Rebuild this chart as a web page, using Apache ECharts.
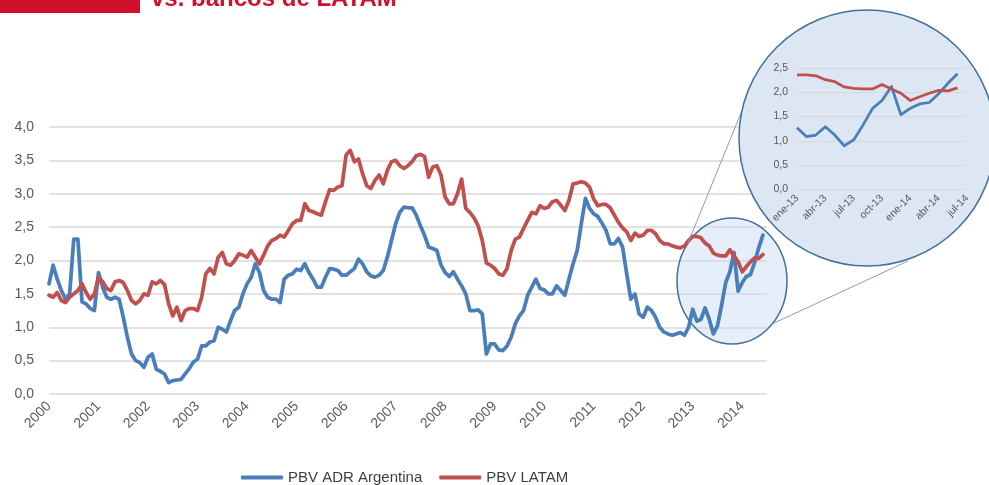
<!DOCTYPE html>
<html>
<head>
<meta charset="utf-8">
<script src="https://cdn.jsdelivr.net/npm/echarts@6/dist/echarts.min.js"></script>
<style>
  html, body { margin: 0; padding: 0; background: #fff; }
  #chart { width: 989px; height: 485px; }
</style>
</head>
<body>
<div id="chart"></div>
<script>
// monthly series, ene-2000 .. jun-2014
const years = ['2000', '2001', '2002', '2003', '2004', '2005', '2006', '2007',
  '2008', '2009', '2010', '2011', '2012', '2013', '2014']
const monthNames = ['ene', 'feb', 'mar', 'abr', 'may', 'jun', 'jul', 'ago', 'sep', 'oct', 'nov', 'dic']

const adrArgentina = [
  1.65, 1.93, 1.72, 1.55, 1.42, 1.5, 2.32, 2.32, 1.38, 1.35, 1.28, 1.25,
  1.82, 1.6, 1.45, 1.42, 1.45, 1.42, 1.15, 0.85, 0.6, 0.5, 0.47, 0.4,
  0.55, 0.6, 0.37, 0.34, 0.3, 0.17, 0.2, 0.21, 0.22, 0.3, 0.38, 0.48,
  0.52, 0.72, 0.72, 0.78, 0.8, 1.0, 0.97, 0.93, 1.1, 1.25, 1.3, 1.5,
  1.65, 1.75, 1.95, 1.82, 1.55, 1.45, 1.42, 1.42, 1.37, 1.72, 1.78, 1.8,
  1.87, 1.85, 1.95, 1.82, 1.72, 1.6, 1.6, 1.75, 1.88, 1.87, 1.85, 1.78,
  1.78, 1.83, 1.88, 2.02, 1.95, 1.83, 1.77, 1.75, 1.78, 1.85, 2.05, 2.3,
  2.55, 2.72, 2.8, 2.79, 2.79, 2.68, 2.52, 2.38, 2.2, 2.18, 2.15, 1.93,
  1.82, 1.76, 1.83, 1.72, 1.62, 1.5, 1.25, 1.25, 1.26, 1.2, 0.6, 0.75,
  0.75, 0.66, 0.65, 0.72, 0.85, 1.05, 1.17, 1.25, 1.48, 1.6, 1.72, 1.58,
  1.56, 1.5, 1.5, 1.62, 1.55, 1.48, 1.72, 1.95, 2.15, 2.55, 2.93, 2.78,
  2.7, 2.66, 2.56, 2.45, 2.25, 2.25, 2.33, 2.2, 1.8, 1.42, 1.5, 1.2,
  1.15, 1.3, 1.25, 1.15, 1.0, 0.93, 0.9, 0.88, 0.9, 0.92, 0.88, 1.0,
  1.27, 1.09, 1.12, 1.29, 1.12, 0.9, 1.02, 1.33, 1.67, 1.83, 2.12, 1.54,
  1.67, 1.76, 1.79, 1.97, 2.19, 2.38
]

const pbvLatam = [
  1.48, 1.45, 1.52, 1.4, 1.37, 1.45, 1.5, 1.55, 1.65, 1.52, 1.42, 1.5,
  1.75, 1.68, 1.58, 1.55, 1.68, 1.7, 1.67, 1.55, 1.4, 1.35, 1.4, 1.5,
  1.48, 1.68, 1.65, 1.7, 1.64, 1.35, 1.17, 1.3, 1.1, 1.25, 1.28, 1.28,
  1.25, 1.45, 1.8, 1.88, 1.8, 2.05, 2.12, 1.95, 1.93, 2.0, 2.1, 2.08,
  2.05, 2.15, 2.05, 1.95, 2.08, 2.22, 2.3, 2.33, 2.38, 2.35, 2.45, 2.55,
  2.6, 2.6, 2.85, 2.75, 2.73, 2.7, 2.68, 2.88, 3.06, 3.05, 3.1, 3.12,
  3.58, 3.65, 3.48, 3.52, 3.3, 3.12, 3.08, 3.2, 3.28, 3.15, 3.35, 3.48,
  3.5, 3.42, 3.38, 3.42, 3.48, 3.57, 3.59, 3.56, 3.25, 3.4, 3.42, 3.28,
  2.95, 2.85, 2.85, 3.0, 3.22, 2.78, 2.72, 2.64, 2.52, 2.3, 1.96, 1.93,
  1.88, 1.8, 1.78, 1.88, 2.15, 2.32, 2.35, 2.48, 2.6, 2.72, 2.7, 2.82,
  2.78, 2.8, 2.88, 2.9, 2.83, 2.75, 2.9, 3.15, 3.16, 3.18, 3.16, 3.1,
  2.92, 2.82, 2.84, 2.84, 2.79, 2.68, 2.57, 2.49, 2.43, 2.3, 2.41, 2.36,
  2.38, 2.45, 2.45, 2.4, 2.3, 2.25, 2.25, 2.22, 2.2, 2.19, 2.22, 2.3,
  2.36, 2.36, 2.34, 2.26, 2.22, 2.11, 2.08, 2.07, 2.07, 2.16, 2.07, 1.98,
  1.83, 1.91, 1.98, 2.04, 2.03, 2.09
]

// zoom window starts at ene-13
const insetStart = 156

// category labels: ene-00 .. jul-14
const categories = []
years.forEach(y => {
  monthNames.forEach((m, i) => {
    if (y === '2014' && i > 6) return
    categories.push(m + '-' + y.slice(2))
  })
})
const insetCategories = categories.slice(insetStart)

const BLUE = '#4a7ebb'
const RED = '#c0504d'
const GRID = '#d9d9d9'
const LABEL = '#595959'
const FONT = 'Liberation Sans, Arial, sans-serif'

const fmt = v => v.toFixed(1).replace('.', ',')

const chart = echarts.init(document.getElementById('chart'))

chart.setOption({
  animation: false,
  textStyle: { fontFamily: FONT },
  grid: [
    { left: 49, right: 222, top: 127, bottom: 91 },
    { left: 797, right: 22, top: 68, bottom: 295.5 }
  ],
  legend: {
    left: 241,
    top: 470,
    padding: 0,
    icon: 'roundRect',
    itemWidth: 42,
    itemHeight: 4,
    itemGap: 17,
    textStyle: { fontSize: 15, color: '#404040', fontFamily: FONT },
    data: ['PBV ADR Argentina', 'PBV LATAM']
  },
  xAxis: [
    {
      type: 'category',
      gridIndex: 0,
      data: categories,
      boundaryGap: false,
      axisLine: { show: false },
      axisTick: { show: false },
      splitLine: { show: false },
      axisLabel: {
        interval: i => i % 12 === 0,
        formatter: v => '20' + v.slice(-2),
        rotate: 45,
        margin: 10,
        fontSize: 14,
        color: LABEL
      }
    },
    {
      type: 'category',
      gridIndex: 1,
      data: insetCategories,
      boundaryGap: false,
      z: 11,
      axisLine: { show: false },
      axisTick: { show: false },
      splitLine: { show: false },
      axisLabel: {
        interval: i => i % 3 === 0,
        rotate: 45,
        margin: 7,
        fontSize: 10.5,
        color: LABEL
      }
    }
  ],
  yAxis: [
    {
      type: 'value',
      gridIndex: 0,
      min: 0,
      max: 4,
      interval: 0.5,
      axisLine: { show: false },
      axisTick: { show: false },
      splitLine: { lineStyle: { color: GRID, width: 1.5 } },
      axisLabel: { formatter: fmt, fontSize: 14, color: LABEL, margin: 15 }
    },
    {
      type: 'value',
      gridIndex: 1,
      min: 0,
      max: 2.5,
      interval: 0.5,
      z: 11,
      axisLine: { show: false },
      axisTick: { show: false },
      splitLine: { lineStyle: { color: GRID, width: 1 } },
      axisLabel: { formatter: fmt, fontSize: 10.5, color: LABEL, margin: 9 }
    }
  ],
  series: [
    {
      name: 'PBV ADR Argentina',
      type: 'line',
      xAxisIndex: 0,
      yAxisIndex: 0,
      data: adrArgentina,
      showSymbol: false,
      color: BLUE,
      lineStyle: { width: 3.75, cap: 'round', join: 'round' }
    },
    {
      name: 'PBV LATAM',
      type: 'line',
      xAxisIndex: 0,
      yAxisIndex: 0,
      data: pbvLatam,
      showSymbol: false,
      color: RED,
      lineStyle: { width: 3.75, cap: 'round', join: 'round' }
    },
    {
      name: 'PBV ADR Argentina',
      type: 'line',
      xAxisIndex: 1,
      yAxisIndex: 1,
      z: 12,
      data: adrArgentina.slice(insetStart),
      showSymbol: false,
      color: BLUE,
      lineStyle: { width: 2.75, join: 'round' }
    },
    {
      name: 'PBV LATAM',
      type: 'line',
      xAxisIndex: 1,
      yAxisIndex: 1,
      z: 12,
      data: pbvLatam.slice(insetStart),
      showSymbol: false,
      color: RED,
      lineStyle: { width: 2.75, join: 'round' }
    }
  ],
  graphic: [
    // header bar and cut-off title
    { type: 'rect', z: 20, shape: { x: 0, y: 0, width: 140, height: 13 }, style: { fill: '#d0112b' } },
    {
      type: 'text', z: 20, x: 151, y: 11,
      style: {
        text: 'vs. bancos de LATAM',
        fill: '#d0112b',
        font: 'bold 24px Liberation Sans, Arial, sans-serif',
        verticalAlign: 'bottom'
      }
    },
    // zoom circle over 2013-2014
    {
      type: 'ellipse', z: 1,
      shape: { cx: 732, cy: 281, rx: 55, ry: 63 },
      style: { fill: 'rgba(198,217,241,0.45)', stroke: '#41719c', lineWidth: 1.5 }
    },
    // connector lines
    { type: 'line', z: 9, shape: { x1: 688, y1: 243, x2: 741, y2: 113 }, style: { stroke: '#7f9fc8', lineWidth: 1 } },
    { type: 'line', z: 9, shape: { x1: 772, y1: 324, x2: 908, y2: 261 }, style: { stroke: '#7f9fc8', lineWidth: 1 } },
    // magnified circle
    {
      type: 'circle', z: 10,
      shape: { cx: 867, cy: 138, r: 128 },
      style: { fill: '#dde7f3', stroke: '#41719c', lineWidth: 1.5 }
    }
  ]
})
</script>
</body>
</html>
